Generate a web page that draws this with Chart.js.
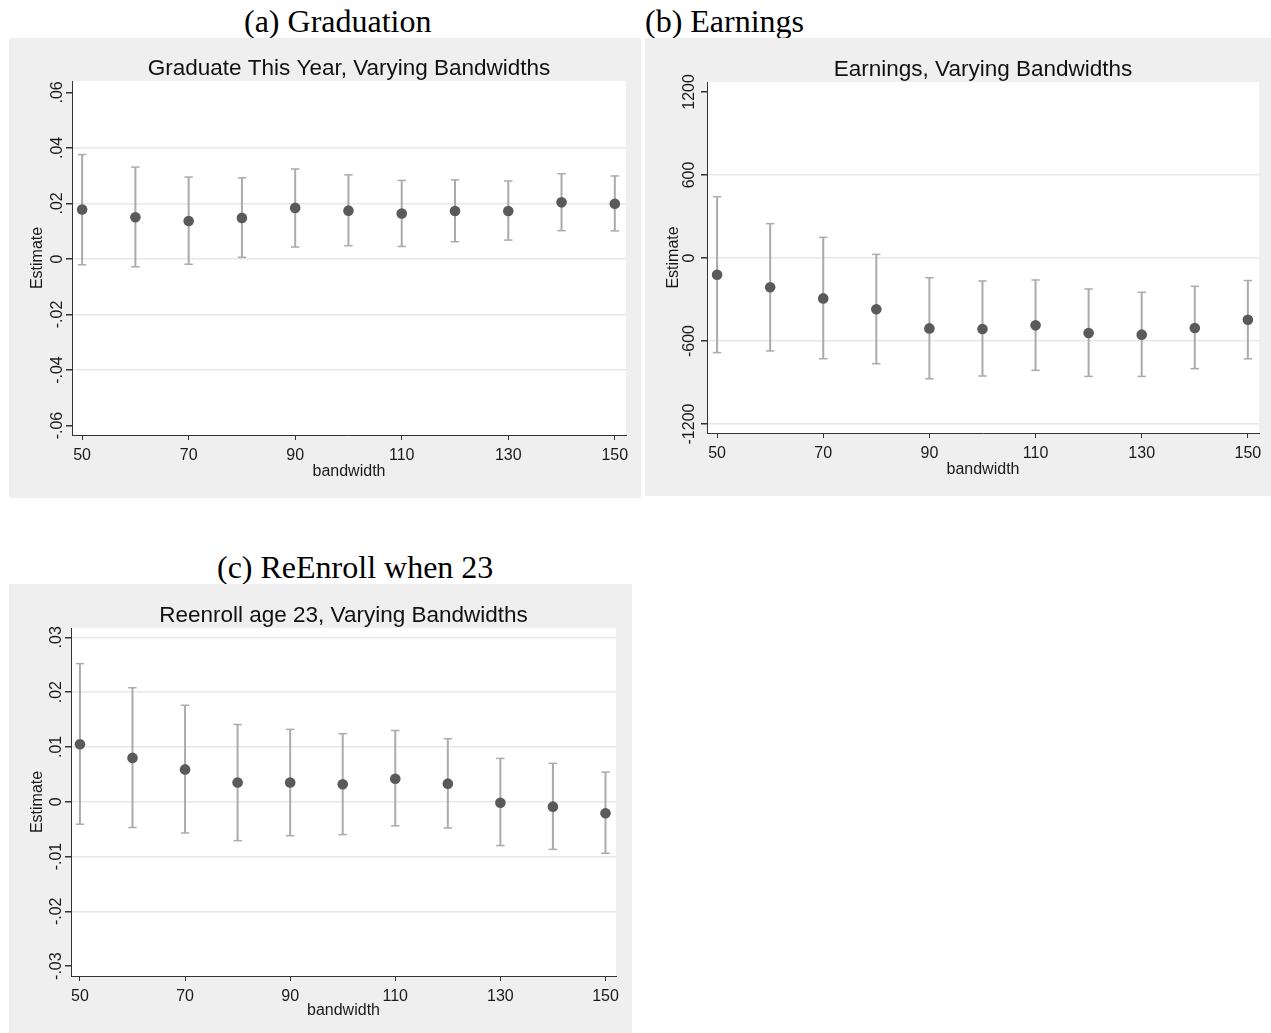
<!DOCTYPE html>
<html>
<head>
<meta charset="utf-8">
<script src="https://cdn.jsdelivr.net/npm/chart.js@4.4.1/dist/chart.umd.min.js"></script>
<style>
  html, body { margin: 0; padding: 0; background: #fff; }
  body { width: 1271px; height: 1033px; position: relative; overflow: hidden; }
  .cap { position: absolute; font-family: "Liberation Serif", "Times New Roman", serif; font-size: 32px; line-height: 32px; color: #000; white-space: nowrap; }
  canvas { position: absolute; background: #efefef; }
</style>
</head>
<body>
<div class="cap" style="left:244px; top:5px;">(a) Graduation</div>
<div class="cap" style="left:645px; top:5px;">(b) Earnings</div>
<div class="cap" style="left:217px; top:551px;">(c) ReEnroll when 23</div>
<canvas id="grad" width="632" height="460" style="left:9px; top:38px;"></canvas>
<canvas id="earn" width="626" height="458" style="left:645px; top:38px;"></canvas>
<canvas id="reenroll" width="623" height="449" style="left:9px; top:584px;"></canvas>
<script>
var bandwidth = [50, 60, 70, 80, 90, 100, 110, 120, 130, 140, 150];
var xTicks = [50, 70, 90, 110, 130, 150];

// (a) graduate this year
var gradEst = [0.0178, 0.0150, 0.0137, 0.0148, 0.0184, 0.0174, 0.0164, 0.0173, 0.0173, 0.0204, 0.0199];
var gradLo  = [-0.0021, -0.0028, -0.0019, 0.0006, 0.0043, 0.0048, 0.0045, 0.0062, 0.0068, 0.0102, 0.0101];
var gradHi  = [0.0376, 0.0331, 0.0295, 0.0292, 0.0324, 0.0303, 0.0283, 0.0285, 0.0281, 0.0307, 0.0299];
var gradTicks  = [-0.06, -0.04, -0.02, 0, 0.02, 0.04, 0.06];
var gradLabels = ['-.06', '-.04', '-.02', '0', '.02', '.04', '.06'];
var gradGrid   = [-0.04, -0.02, 0, 0.02, 0.04];

// (b) earnings
var earnEst = [-121, -212, -292, -371, -509, -513, -487, -542, -554, -506, -446];
var earnLo  = [-684, -672, -728, -764, -873, -853, -812, -856, -856, -800, -729];
var earnHi  = [443, 248, 149, 26, -143, -166, -159, -224, -248, -205, -163];
var earnTicks  = [-1200, -600, 0, 600, 1200];
var earnLabels = ['-1200', '-600', '0', '600', '1200'];
var earnGrid   = [-1200, -600, 0, 600];

// (c) reenroll age 23
var reEst = [0.0105, 0.0080, 0.0059, 0.0035, 0.0035, 0.0032, 0.0042, 0.0033, -0.0002, -0.0009, -0.0021];
var reLo  = [-0.0041, -0.0047, -0.0057, -0.0071, -0.0062, -0.0060, -0.0044, -0.0048, -0.0080, -0.0087, -0.0094];
var reHi  = [0.0252, 0.0208, 0.0176, 0.0141, 0.0132, 0.0124, 0.0130, 0.0115, 0.0079, 0.0070, 0.0054];
var reTicks  = [-0.03, -0.02, -0.01, 0, 0.01, 0.02, 0.03];
var reLabels = ['-.03', '-.02', '-.01', '0', '.01', '.02', '.03'];
var reGrid   = [-0.02, -0.01, 0, 0.01, 0.02, 0.03];

var FONT = '"Liberation Sans", Arial, sans-serif';
var ciColor = '#ababab';

// white plot region on the grey graph region
var plotBg = {
  id: 'plotBg',
  beforeDraw: function(chart) {
    var a = chart.chartArea, ctx = chart.ctx;
    ctx.save();
    ctx.fillStyle = '#ffffff';
    ctx.fillRect(a.left, a.top, a.right - a.left, a.bottom - a.top);
    ctx.restore();
  }
};

function make_panel(id, p) {
  var points = [], caps = [], bars = [];
  for (var i = 0; i < bandwidth.length; i++) {
    points.push({x: bandwidth[i], y: p.est[i]});
    caps.push({x: bandwidth[i], y: p.lo[i]});
    caps.push({x: bandwidth[i], y: p.hi[i]});
    bars.push({x: bandwidth[i], y: p.lo[i]});
    bars.push({x: bandwidth[i], y: p.hi[i]});
    bars.push({x: bandwidth[i], y: null});
  }
  return new Chart(document.getElementById(id), {
    type: 'scatter',
    data: {
      datasets: [
        {label: 'Estimate', data: points, pointRadius: 5.3, pointBackgroundColor: '#5a5a5a', pointBorderWidth: 0},
        {label: 'caps', data: caps, pointStyle: 'line', pointRadius: 4.2, pointBorderColor: ciColor, pointBorderWidth: 1.5},
        {label: 'ci', data: bars, showLine: true, spanGaps: false, borderColor: ciColor, borderWidth: 2, pointRadius: 0}
      ]
    },
    options: {
      responsive: false,
      animation: false,
      events: [],
      layout: {padding: p.pad},
      plugins: {
        legend: {display: false},
        tooltip: {enabled: false},
        title: {
          display: true,
          fullSize: false,   // centre over the plot region like Stata
          text: p.title,
          color: '#111',
          font: {family: FONT, size: 22.5, weight: 'normal', lineHeight: 1},
          padding: {top: p.titleTop, bottom: p.titleBottom}
        }
      },
      scales: {
        x: {
          type: 'linear',
          min: p.xmin, max: p.xmax,
          afterBuildTicks: function(axis) { axis.ticks = xTicks.map(function(v) { return {value: v}; }); },
          afterFit: function(axis) { axis.height = 48; },
          ticks: {autoSkip: false, maxRotation: 0, padding: 6, color: '#1a1a1a', font: {family: FONT, size: 16}},
          grid: {drawOnChartArea: false, drawTicks: true, tickLength: 5, tickColor: '#333'},
          border: {display: true, color: '#333', width: 1},
          title: {display: true, text: 'bandwidth', color: '#1a1a1a', font: {family: FONT, size: 16}, padding: {top: 0, bottom: p.xTitleBottom}}
        },
        y: {
          type: 'linear',
          min: p.ymin, max: p.ymax,
          afterBuildTicks: function(axis) { axis.ticks = p.ticks.map(function(v) { return {value: v}; }); },
          afterFit: function(axis) { axis.width = p.yWidth; },
          ticks: {
            autoSkip: false, minRotation: 90, maxRotation: 90, crossAlign: 'center',
            padding: p.yTickPad, color: '#1a1a1a', font: {family: FONT, size: 16},
            callback: function(value, index) { return p.labels[index]; }
          },
          grid: {
            drawTicks: true, tickLength: 6, tickColor: '#333', lineWidth: 1.5,
            color: function(ctx) { return (ctx.tick && p.grid.indexOf(ctx.tick.value) >= 0) ? '#e8e8e8' : 'rgba(0,0,0,0)'; }
          },
          border: {display: true, color: '#333', width: 1},
          title: {display: true, text: 'Estimate', color: '#1a1a1a', font: {family: FONT, size: 16}, padding: {top: 19, bottom: 0}}
        }
      }
    },
    plugins: [plotBg]
  });
}

make_panel('grad', {
  title: 'Graduate This Year, Varying Bandwidths',
  est: gradEst, lo: gradLo, hi: gradHi,
  ticks: gradTicks, labels: gradLabels, grid: gradGrid,
  xmin: 48.1, xmax: 152.1, ymin: -0.0634, ymax: 0.0641,
  pad: {left: 0, right: 15, top: 0, bottom: 15},
  titleTop: 19.75, titleBottom: 0.75, yWidth: 63, yTickPad: -5, xTitleBottom: 2
});

make_panel('earn', {
  title: 'Earnings, Varying Bandwidths',
  est: earnEst, lo: earnLo, hi: earnHi,
  ticks: earnTicks, labels: earnLabels, grid: earnGrid,
  xmin: 48.1, xmax: 152.1, ymin: -1265, ymax: 1272,
  pad: {left: 0, right: 12, top: 0, bottom: 15},
  titleTop: 20.75, titleBottom: 0.75, yWidth: 62, yTickPad: -8.8, xTitleBottom: 2
});

make_panel('reenroll', {
  title: 'Reenroll age 23, Varying Bandwidths',
  est: reEst, lo: reLo, hi: reHi,
  ticks: reTicks, labels: reLabels, grid: reGrid,
  xmin: 48.3, xmax: 152.0, ymin: -0.0318, ymax: 0.0317,
  pad: {left: 0, right: 16, top: 0, bottom: 9},
  titleTop: 20.75, titleBottom: 0.75, yWidth: 62, yTickPad: -5, xTitleBottom: 4
});
</script>
</body>
</html>
